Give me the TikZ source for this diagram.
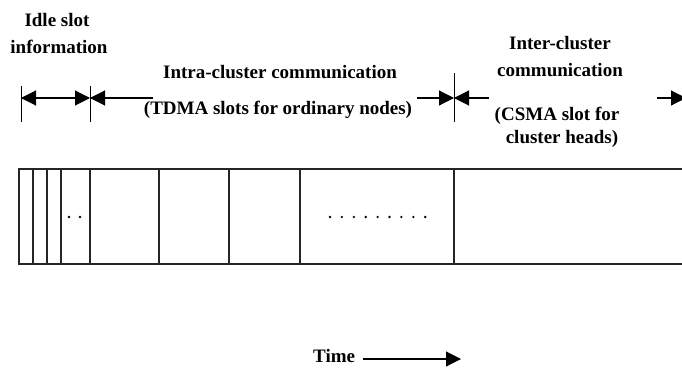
\documentclass[tikz,border=0pt]{standalone}
\usepackage{fontspec}
\setmainfont{Liberation Serif}
\usetikzlibrary{arrows.meta}
\tikzset{
  lbl/.style={font=\fontsize{19}{22}\selectfont\bfseries, inner sep=0pt, anchor=base},
  tick/.style={line width=1pt},
  dim/.style={line width=1.1pt, -{Triangle[length=15pt,width=15pt]}},
  dimboth/.style={line width=1.1pt, {Triangle[length=15pt,width=15pt]}-{Triangle[length=15pt,width=15pt]}},
  slot/.style={line width=1.2pt, draw=black!85},
  dot/.style={fill=black}
}
\begin{document}
\begin{tikzpicture}[x=1pt,y=-1pt]
\useasboundingbox (0,0) rectangle (682,369);
% labels
\node[lbl] (idle1) at (57,27) {Idle slot};
\node[lbl] (idle2) at (59,53) {information};
\node[lbl] (intra) at (280,78) {Intra-cluster communication};
\node[lbl] (tdma) at (278,114) {(TDMA slots for ordinary nodes)};
\node[lbl] (inter1) at (560,50) {Inter-cluster};
\node[lbl] (inter2) at (560,77) {communication};
\node[lbl] (csma1) at (557,120) {(CSMA slot for};
\node[lbl] (csma2) at (562,143) {cluster heads)};
\node[lbl, anchor=base west] (time) at (313,362) {Time};
% tick marks
\coordinate (t1a) at (21,86); \coordinate (t1b) at (21,122);
\coordinate (t2a) at (90,86); \coordinate (t2b) at (90,122);
\coordinate (t3a) at (454,73); \coordinate (t3b) at (454,122);
\draw[tick] (t1a) -- (t1b);
\draw[tick] (t2a) -- (t2b);
\draw[tick] (t3a) -- (t3b);
% dimension arrows
\coordinate (a1) at (21,98); \coordinate (a2) at (90,98);
\coordinate (a3) at (153,98); \coordinate (a4) at (417,98);
\coordinate (a5) at (454,98); \coordinate (a6) at (489,98);
\coordinate (a7) at (657,98); \coordinate (a8) at (686,98);
\draw[dimboth] (a1) -- (a2);
\draw[dim] (a3) -- (a2);
\draw[dim] (a4) -- (a5);
\draw[dim] (a6) -- (a5);
\draw[dim] (a7) -- (a8);
% time arrow
\coordinate (ts) at (363,359); \coordinate (te) at (461,359);
\draw[dim] (ts) -- (te);
% frame
\draw[slot] (690,169) -- (19,169) -- (19,264) -- (690,264);
\foreach \x in {33,47,61,90,159,229,300,454}
  \draw[slot] (\x,169) -- (\x,264);
% dots
\foreach \x in {69,80}
  \fill[dot] (\x,217) circle (1.3);
\foreach \i in {0,...,8}
  \fill[dot] ({330+\i*11.9},217) circle (1.3);
\end{tikzpicture}
\end{document}
